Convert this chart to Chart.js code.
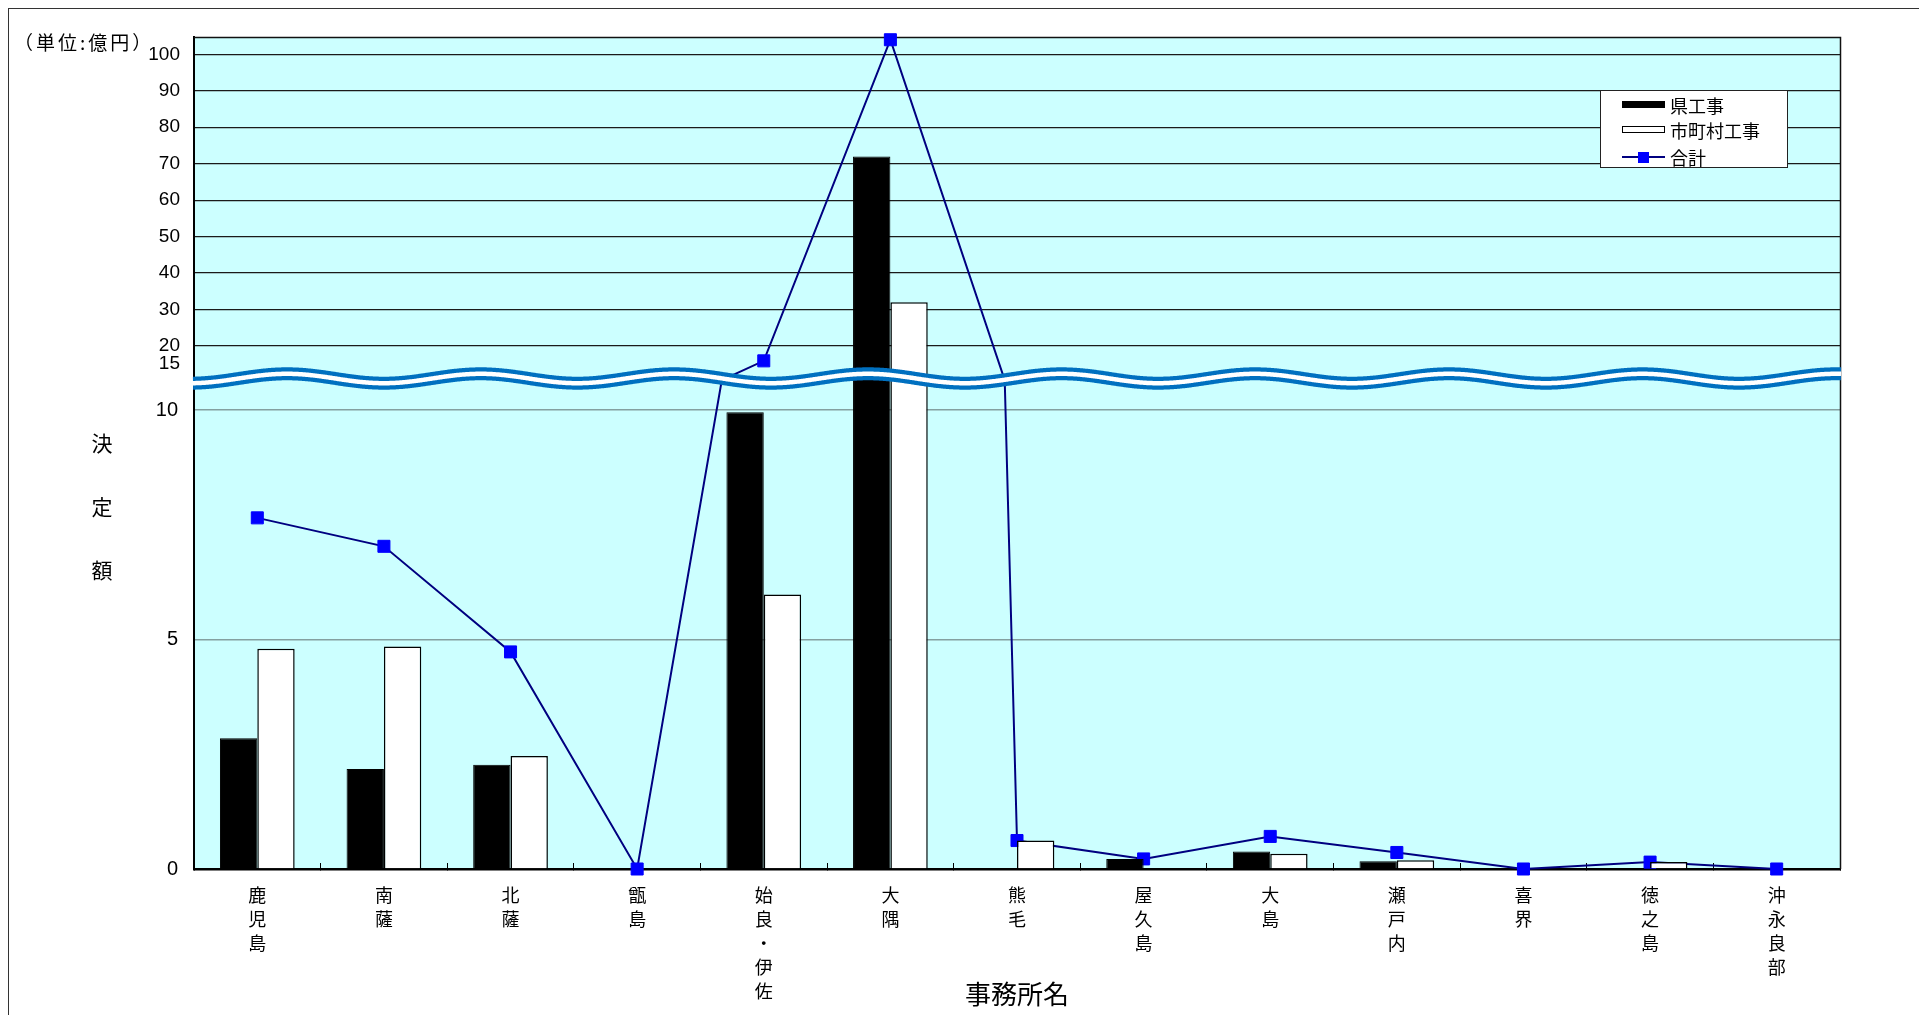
<!DOCTYPE html>
<html lang="ja">
<head>
<meta charset="utf-8">
<title>事務所別決定額</title>
<script src="https://cdn.jsdelivr.net/npm/chart.js@4.4.1/dist/chart.umd.min.js"></script>
<style>
  body { margin: 0; background: #fff; }
  #wrap { position: relative; width: 1919px; height: 1015px; overflow: hidden; font-family: 'Noto Sans CJK JP', sans-serif; }
  #chart { position: absolute; left: 0; top: 0; }
  .frame { position: absolute; left: 8px; top: 8px; width: 2000px; height: 2000px; border-left: 1.5px solid #333; border-top: 1.5px solid #333; }
  .unit { position: absolute; left: 14px; top: 31px; font-size: 19px; letter-spacing: 3px; line-height: 22px; color: #000; white-space: nowrap; }
  .ytitle { position: absolute; left: 76px; top: 411px; width: 52px; text-align: center; font-size: 21px; line-height: 63.5px; color: #000; }
  .legend { position: absolute; left: 1600px; top: 90px; width: 186px; height: 76px; border: 1.5px solid #222; background: #fff; font-size: 18px; color: #000; }
  .legend .txt { position: absolute; left: 69px; line-height: 22px; white-space: nowrap; }
  .legend .sym { position: absolute; left: 21px; width: 43px; }
</style>
</head>
<body>
<div id="wrap">
  <div class="frame"></div>
  <canvas id="chart" width="1919" height="1015"></canvas>
  <div class="unit">（単位:億円）</div>
  <div class="ytitle">決<br>定<br>額</div>
  <div class="legend">
    <div class="sym" style="top:10px;height:7px;background:#000;"></div>
    <div class="txt" style="top:3px;">県工事</div>
    <div class="sym" style="top:35px;height:5px;background:#fff;border:1px solid #000;width:41px;"></div>
    <div class="txt" style="top:28px;">市町村工事</div>
    <div class="sym" style="top:65px;height:2px;background:#000080;"></div>
    <div class="sym" style="top:60.5px;left:37px;width:11px;height:11px;background:#0000ff;"></div>
    <div class="txt" style="top:55px;">合計</div>
  </div>
</div>
<script>
// 事務所別の決定額（単位：億円）
const offices = ['鹿児島', '南薩', '北薩', '甑島', '始良・伊佐', '大隅', '熊毛', '屋久島', '大島', '瀬戸内', '喜界', '徳之島', '沖永良部'];
const prefWorks = [2.85, 2.18, 2.27, 0, 9.95, 72.0, 0, 0.22, 0.38, 0.17, 0, 0, 0];
const muniWorks = [4.80, 4.85, 2.46, 0, 5.98, 32.0, 0.62, 0, 0.33, 0.19, 0, 0.15, 0];
const totals = [7.65, 7.03, 4.73, 0, 15.93, 104.0, 0.62, 0.22, 0.71, 0.36, 0, 0.15, 0];

// 軸の目盛り（下段 0〜10、上段 15〜100 の省略軸）
const lowTicks = [0, 5, 10];
const highTicks = [15, 20, 30, 40, 50, 60, 70, 80, 90, 100];

function barSet(label, data, axis, stack, fill, border) {
    return {
        label: label,
        data: data,
        yAxisID: axis,
        stack: stack,
        backgroundColor: fill,
        borderColor: '#000',
        borderWidth: border,
        barPercentage: 1.0,
        categoryPercentage: 0.59,
        clip: false
    };
}

function lineSet(axis) {
    return {
        type: 'line',
        label: '合計',
        data: totals,
        yAxisID: axis,
        borderColor: '#000080',
        borderWidth: 2,
        pointStyle: 'rect',
        pointRadius: 8.5,
        pointBackgroundColor: '#0000ff',
        pointBorderColor: '#0000ff',
        pointBorderWidth: 1,
        tension: 0,
        clip: false
    };
}

// 背景・枠・各段のクリップ・波線
const brokenAxis = {
    id: 'brokenAxis',
    beforeDraw(chart) {
        const a = chart.chartArea;
        const ctx = chart.ctx;
        ctx.save();
        ctx.fillStyle = '#ccffff';
        ctx.fillRect(a.left, a.top, a.width, a.height);
        ctx.restore();
    },
    beforeDatasetsDraw(chart) {
        const a = chart.chartArea;
        const ctx = chart.ctx;
        ctx.save();
        ctx.strokeStyle = '#111';
        ctx.lineWidth = 1.5;
        ctx.beginPath();
        ctx.moveTo(a.left, a.top + 0.5);
        ctx.lineTo(a.right + 0.5, a.top + 0.5);
        ctx.lineTo(a.right + 0.5, a.bottom);
        ctx.stroke();
        ctx.restore();
    },
    beforeDatasetDraw(chart, args) {
        const ds = chart.data.datasets[args.index];
        const s = chart.scales[ds.yAxisID];
        const a = chart.chartArea;
        const top = ds.yAxisID === 'yHigh' ? a.top - 12 : s.top;
        const bottom = ds.yAxisID === 'yLow' ? a.bottom + 12 : s.bottom;
        const ctx = chart.ctx;
        ctx.save();
        ctx.beginPath();
        ctx.rect(a.left - 12, top, a.width + 24, bottom - top);
        ctx.clip();
    },
    afterDatasetDraw(chart) {
        chart.ctx.restore();
    },
    afterDatasetsDraw(chart) {
        const a = chart.chartArea;
        const yc = chart.scales.yHigh.bottom;
        const ctx = chart.ctx;
        const wave = a.width / 8.5;
        const shift = 0.48 * wave;
        ctx.save();
        ctx.beginPath();
        for (let x = a.left - 1; x <= a.right + 1; x += 1) {
            const y = yc - 4.7 * Math.cos(2 * Math.PI * (x - a.left - shift) / wave);
            if (x === a.left - 1) ctx.moveTo(x, y); else ctx.lineTo(x, y);
        }
        ctx.lineCap = 'butt';
        ctx.lineJoin = 'round';
        ctx.strokeStyle = '#0070c0';
        ctx.lineWidth = 13;
        ctx.stroke();
        ctx.strokeStyle = '#ffffff';
        ctx.lineWidth = 4.5;
        ctx.stroke();
        ctx.restore();
    }
};

Chart.defaults.font.family = "'Noto Sans CJK JP', sans-serif";
Chart.defaults.color = '#000';

new Chart(document.getElementById('chart'), {
    type: 'bar',
    data: {
        labels: offices,
        datasets: [
            barSet('県工事', prefWorks, 'yLow', 'pref', '#000', 1),
            barSet('市町村工事', muniWorks, 'yLow', 'muni', '#fff', 1.5),
            barSet('県工事', prefWorks, 'yHigh', 'pref', '#000', 1),
            barSet('市町村工事', muniWorks, 'yHigh', 'muni', '#fff', 1.5),
            lineSet('yLow'),
            lineSet('yHigh')
        ]
    },
    options: {
        responsive: false,
        animation: false,
        events: [],
        layout: { padding: { left: 0, top: 37, right: 79, bottom: 0 } },
        plugins: {
            legend: { display: false },
            tooltip: { enabled: false }
        },
        scales: {
            x: {
                offset: true,
                grid: { offset: true, drawOnChartArea: false, drawTicks: true, tickLength: -6, color: '#000', lineWidth: 1 },
                border: { color: '#000', width: 2.5 },
                ticks: {
                    autoSkip: false,
                    maxRotation: 0,
                    padding: 20.5,
                    font: { size: 18, lineHeight: 1.333 },
                    callback: function (value) {
                        return Array.from(this.getLabelForValue(value));
                    }
                },
                title: {
                    display: true,
                    text: '事務所名',
                    font: { size: 26, lineHeight: 1.2 },
                    padding: { top: 0, bottom: 5 }
                },
                afterFit: (s) => { s.height = 146; }
            },
            yHigh: {
                type: 'linear',
                position: 'left',
                stack: 'v',
                stackWeight: 341.5,
                weight: 1,
                stacked: false,
                min: 11.09,
                max: 104.75,
                afterBuildTicks: (s) => { s.ticks = highTicks.map(v => ({ value: v })); },
                ticks: { autoSkip: false, padding: 14, font: { family: "'Liberation Sans', Arial, sans-serif", size: 19 } },
                grid: {
                    drawTicks: false,
                    lineWidth: 1.2,
                    color: (ctx) => (ctx.tick && ctx.tick.value === 15 ? 'rgba(0,0,0,0)' : '#1a1a1a')
                },
                border: { color: '#000', width: 2 },
                afterFit: (s) => { s.width = 194; }
            },
            yLow: {
                type: 'linear',
                position: 'left',
                stack: 'v',
                stackWeight: 490.5,
                weight: 0,
                stacked: false,
                min: 0,
                max: 10.686,
                afterBuildTicks: (s) => { s.ticks = lowTicks.map(v => ({ value: v })); },
                ticks: { autoSkip: false, padding: 16, font: { family: "'Liberation Sans', Arial, sans-serif", size: 20 } },
                grid: {
                    drawTicks: false,
                    lineWidth: 1.5,
                    color: (ctx) => (ctx.tick && ctx.tick.value === 0 ? 'rgba(0,0,0,0)' : '#84a0a0')
                },
                border: { color: '#000', width: 2 },
                afterFit: (s) => { s.width = 194; }
            }
        }
    },
    plugins: [brokenAxis]
});
</script>
</body>
</html>
